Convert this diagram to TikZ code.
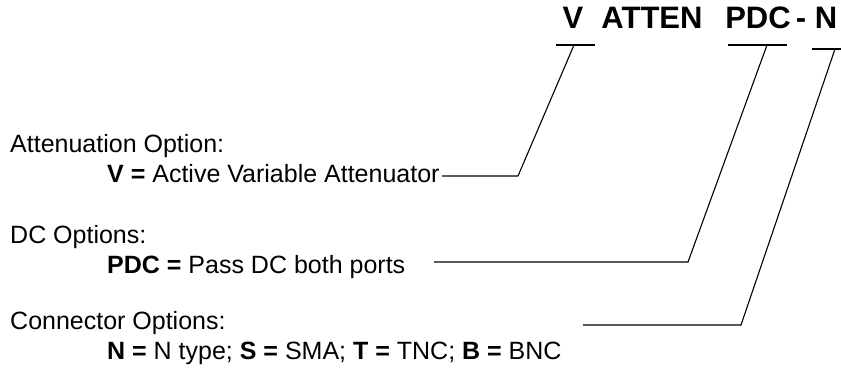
\documentclass[tikz,border=0pt]{standalone}
\usepackage{fontspec}
\setmainfont{Liberation Sans}
\begin{document}
\begin{tikzpicture}[x=1pt,y=-1pt,
  lbl/.style={anchor=base west, inner sep=0pt, font=\fontsize{25}{30}\selectfont},
  ttl/.style={anchor=base, inner sep=0pt, font=\fontsize{31}{36}\selectfont\bfseries},
  lead/.style={line width=1.1pt, line join=miter}]
\useasboundingbox (0,0) rectangle (841,375);
% title tokens
\node[ttl] (tV) at (573,28) {V};
\node[ttl] (tA) at (652,28) {ATTEN};
\node[ttl] (tP) at (758,28) {PDC};
\node[ttl] (tD) at (801,28) {-};
\node[ttl] (tN) at (826,28) {N};
% option texts
\node[lbl] (a1) at (10,152) {Attenuation Option:};
\node[lbl] (a2) at (107,182) {\textbf{V =} Active Variable Attenuator};
\node[lbl] (b1) at (10,243) {DC Options:};
\node[lbl] (b2) at (107,273) {\textbf{PDC =} Pass DC both ports};
\node[lbl] (c1) at (10,329) {Connector Options:};
\node[lbl] (c2) at (107,359) {\textbf{N =} N type; \textbf{S =} SMA; \textbf{T =} TNC; \textbf{B =} BNC};
% leader geometry
\coordinate (vl) at (556,45);  \coordinate (vr) at (595,45);  \coordinate (vt) at (574,45);
\coordinate (vc) at (518,176); \coordinate (vs) at (442,176);
\coordinate (pl) at (728,45);  \coordinate (pr) at (787,45);  \coordinate (pt) at (767,45);
\coordinate (pc) at (688,262); \coordinate (ps) at (434,262);
\coordinate (nl) at (812,49);  \coordinate (nr) at (841,49);  \coordinate (nt) at (835,49);
\coordinate (nc) at (741,325); \coordinate (ns) at (583,325);
\draw[lead] (vl) -- (vr);
\draw[lead] (vt) -- (vc) -- (vs);
\draw[lead] (pl) -- (pr);
\draw[lead] (pt) -- (pc) -- (ps);
\draw[lead] (nl) -- (nr);
\draw[lead] (nt) -- (nc) -- (ns);
\end{tikzpicture}
\end{document}
